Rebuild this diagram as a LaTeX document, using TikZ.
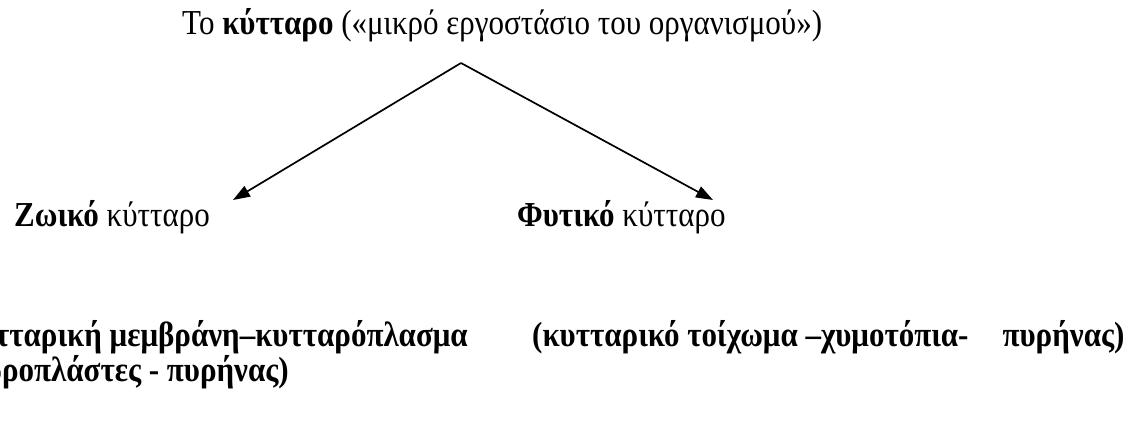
\documentclass[tikz,border=0pt]{standalone}
\usepackage{fontspec}
\setmainfont{Liberation Serif}
\usetikzlibrary{arrows.meta}
\newcommand{\tallbox}[1]{\scalebox{1}[1.13]{#1}}
\tikzset{
  label text/.style={inner sep=0pt, font=\fontsize{31}{31}\selectfont},
  branch/.style={line width=1.7pt, -{Triangle[length=17pt,width=12pt]}}
}
\begin{document}
\begin{tikzpicture}[x=1pt,y=1pt]
  \clip (0,0) rectangle (1128,429);
  \node[label text, anchor=base west] (cell) at (182,394) {\tallbox{Το \textbf{κύτταρο} («μικρό εργοστάσιο του οργανισμού»)}};
  \coordinate (apex) at (461,366);
  \node[label text, anchor=base east] (animal) at (210,202) {\tallbox{\textbf{Ζωικό} κύτταρο}};
  \node[label text, anchor=base west] (plant) at (517,202) {\tallbox{\textbf{Φυτικό} κύτταρο}};
  \coordinate (animal tip) at (233,229);
  \coordinate (plant tip) at (713,229);
  \draw[branch] (apex) -- (animal tip);
  \draw[branch] (apex) -- (plant tip);
  \node[label text, anchor=base east] (animal parts) at (468,82) {\tallbox{\textbf{(κυτταρική μεμβράνη–κυτταρόπλασμα}}};
  \node[label text, anchor=base west] (plant parts) at (532,82) {\tallbox{\textbf{(κυτταρικό τοίχωμα –χυμοτόπια-\hspace{1.1em}πυρήνας)}}};
  \node[label text, anchor=base east] (animal rest) at (289,48) {\tallbox{\textbf{χλωροπλάστες - πυρήνας)}}};
\end{tikzpicture}
\end{document}
